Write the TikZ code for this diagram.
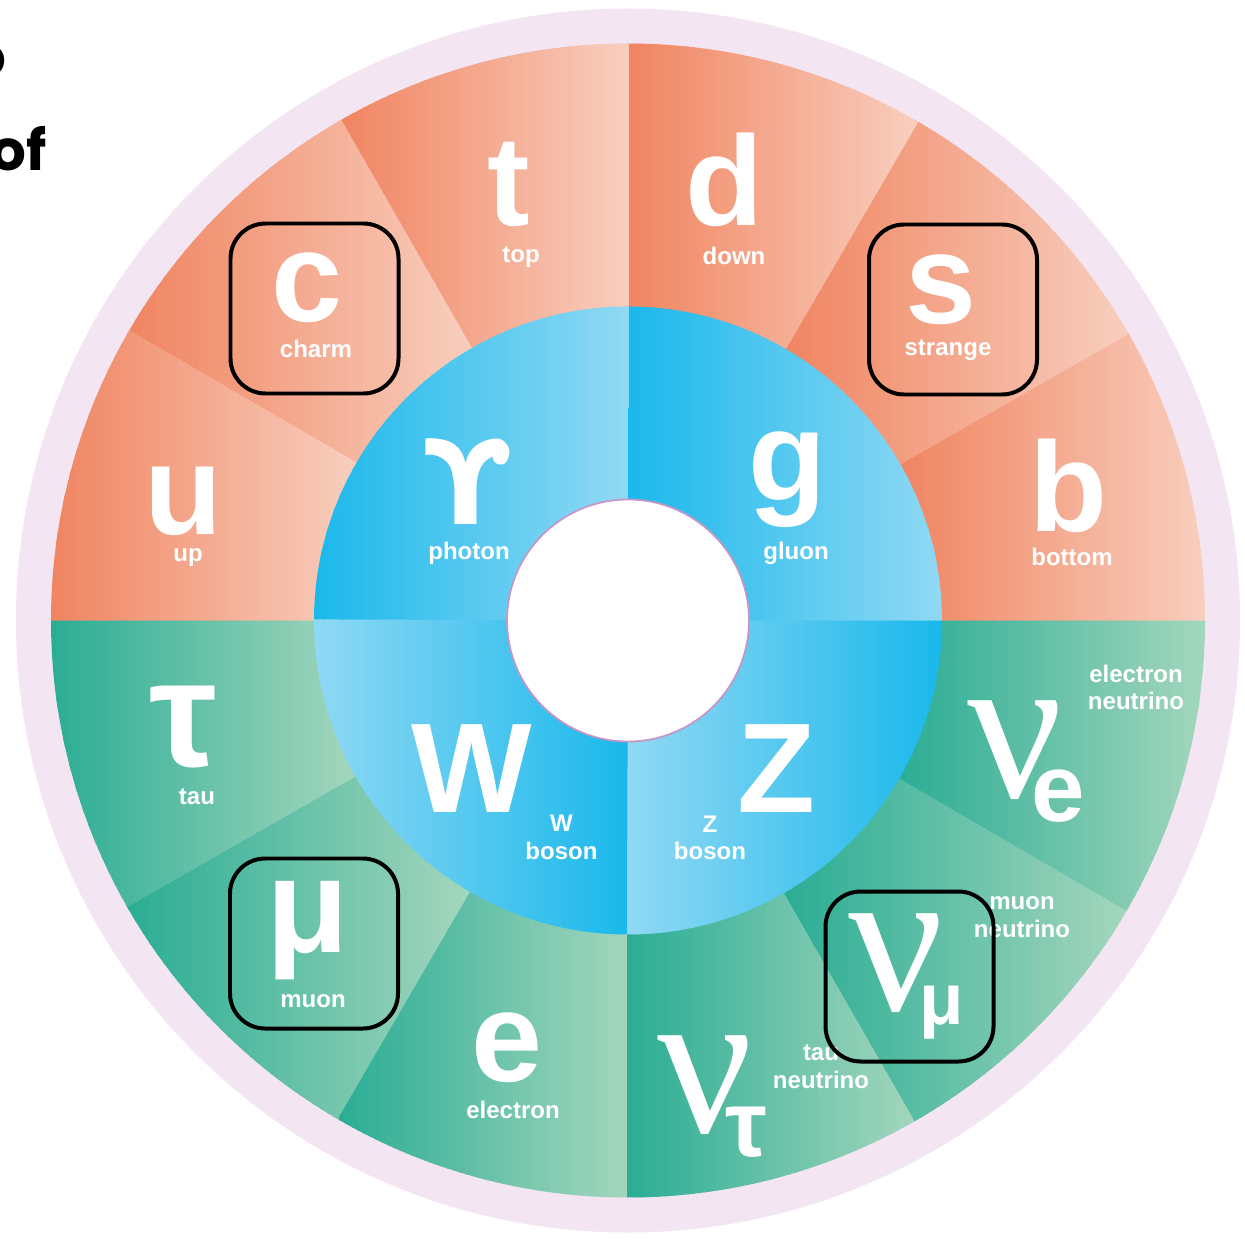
\documentclass[tikz,border=0pt]{standalone}
\usepackage{fontspec}
\setmainfont{Liberation Sans}
\newfontfamily\nufont{Liberation Serif}
\newfontfamily\dvfont{DejaVu Sans}
\newfontfamily\headfont{Poppins}
\usepackage{xcolor}

\definecolor{quarkdark}{HTML}{F08460}
\definecolor{quarklight}{HTML}{F8CEBE}
\definecolor{leptondark}{HTML}{2AAD94}
\definecolor{leptonlight}{HTML}{A3D6BC}
\definecolor{bosondark}{HTML}{1AB8EB}
\definecolor{bosonlight}{HTML}{90D9F4}
\definecolor{halo}{HTML}{F3E6F2}
\definecolor{rimline}{HTML}{C596C6}

\tikzset{
  sym/.style={text=white, inner sep=0pt, font=\bfseries\fontsize{109}{110}\selectfont},
  lbl/.style={text=white, inner sep=0pt, align=center, font=\bfseries\fontsize{20.5}{23.5}\selectfont},
  nusym/.style={text=white, inner sep=0pt, font=\nufont\fontsize{180}{180}\selectfont},
  markbox/.style={draw=black, line width=3.4pt, rounded corners=30pt, minimum width=5.04cm, minimum height=5.1cm}
}

\begin{document}
\begin{tikzpicture}[x=0.03cm, y=-0.03cm]
    \useasboundingbox (0,0) rectangle (1245,1239);
    % heading cut off at the left edge
    \node[anchor=east, inner sep=0pt, font=\headfont\bfseries\fontsize{48}{48}\selectfont] (headA) at (7,61) {o};
    \node[anchor=base east, inner sep=0pt, font=\headfont\bfseries\fontsize{48}{48}\selectfont] (headB) at (47,170.5) {of};
    % rings: each sector is clipped and filled with thin strips, dark on the left, light on the right
    \begin{scope}[shift={(628,620.5)}]
        \fill[halo] (0,0) circle[radius=612];
        \foreach \a/\w/\sa/\sb/\ri/\ro/\xa/\xb/\ca/\cb in {0/30/0.2/0.2/310/577/271.9/577/quarkdark/quarklight, 30/30/0.2/0.2/310/577/157/499.7/quarkdark/quarklight, 60/30/0.2/0.2/310/577/0/288.5/quarkdark/quarklight, 90/30/0.2/0.2/310/577/-288.5/0/quarkdark/quarklight, 120/30/0.2/0.2/310/577/-499.7/-157/quarkdark/quarklight, 150/30/0.2/0.2/310/577/-577/-271.9/quarkdark/quarklight, 180/30/0/0.2/310/577/-577/-271.9/leptondark/leptonlight, 210/30/0.2/0.2/310/577/-499.7/-157/leptondark/leptonlight, 240/30/0.2/0.2/310/577/-288.5/0/leptondark/leptonlight, 270/30/0.2/0.2/310/577/0/288.5/leptondark/leptonlight, 300/30/0.2/0.2/310/577/157/499.7/leptondark/leptonlight, 330/30/0.2/0/310/577/271.9/577/leptondark/leptonlight, 0/90/0.2/0.2/117/314/0/314/bosondark/bosonlight, 90/90/0.2/0.2/117/314/-314/0/bosondark/bosonlight, 180/90/0.2/0.2/117/314/-314/0/bosonlight/bosondark, 270/90/0.2/0/117/314/0/314/bosonlight/bosondark}{
            \begin{scope}
                \clip (-\a+\sa:\ro) arc[start angle=-\a+\sa, end angle=-\a-\w-\sb, radius=\ro] -- (-\a-\w-\sb:\ri) arc[start angle=-\a-\w-\sb, end angle=-\a+\sa, radius=\ri] -- cycle;
                \foreach \k in {0,...,47}{
                    \pgfmathsetmacro\pct{(\k+0.5)*100/48}
                    \pgfmathsetmacro\xl{\xa+(\xb-\xa)*(\k/48)-1}
                    \pgfmathsetmacro\xr{\xa+(\xb-\xa)*((\k+1)/48)+1}
                    \fill[\cb!\pct!\ca] (\xl,-620) rectangle (\xr,620);
                }
            \end{scope}
        }
        \fill[white, draw=rimline, line width=1.5pt] (0,0) circle[radius=121];
    \end{scope}
    % quarks
    \node[sym] (u) at (183,501) {u};
    \node[lbl] (ulbl) at (188,558) {up};
    \node[sym] (c) at (307,288) {c};
    \node[lbl] (clbl) at (316,349) {charm};
    \node[sym] (t) at (509,184) {t};
    \node[lbl] (tlbl) at (521,257) {top};
    \node[sym] (d) at (724,180) {d};
    \node[lbl] (dlbl) at (734,256) {down};
    \node[sym] (s) at (941,290) {s};
    \node[lbl] (slbl) at (948,350) {strange};
    \node[sym] (b) at (1068,486) {b};
    \node[lbl] (blbl) at (1072,557) {bottom};
    % bosons
    \node[sym, font=\dvfont\bfseries\fontsize{100}{100}\selectfont] (gamma) at (467,481) {ϒ};
    \node[lbl] (gammalbl) at (469,553) {photon};
    \node[sym] (g) at (787,480) {g};
    \node[lbl] (glbl) at (796,553) {gluon};
    \node[sym] (W) at (472,769) {W};
    \node[lbl] (Wlbl) at (561.5,837.5) {W\\boson};
    \node[sym] (Z) at (776,769) {Z};
    \node[lbl] (Zlbl) at (710,838) {Z\\boson};
    % leptons
    \node[sym, font=\bfseries\fontsize{130}{130}\selectfont] (tau) at (183,727) {τ};
    \node[lbl] (taulbl) at (197,797) {tau};
    \node[sym, font=\bfseries\fontsize{115}{115}\selectfont] (mu) at (308,931) {μ};
    \node[lbl] (mulbl) at (313,1001) {muon};
    \node[sym] (e) at (507,1048) {e};
    \node[lbl] (elbl) at (513,1110) {electron};
    \node[nusym] (nutau) at (705,1085) {ν};
    \node[sym, font=\bfseries\fontsize{80}{80}\selectfont] (nutausub) at (746.5,1132.5) {τ};
    \node[lbl] (nutaulbl) at (821,1067) {tau\\neutrino};
    \node[nusym] (numu) at (896,963) {ν};
    \node[sym, font=\bfseries\fontsize{62}{62}\selectfont] (numusub) at (941.5,1012.5) {μ};
    \node[lbl] (numulbl) at (1022,917) {muon\\neutrino};
    \node[nusym] (nue) at (1015,750) {ν};
    \node[sym, font=\bfseries\fontsize{82}{82}\selectfont] (nuesub) at (1058.5,796.5) {e};
    \node[lbl] (nuelbl) at (1136,687.5) {electron\\neutrino};
    % marked particles
    \node[markbox] (cbox) at (314.5,308.5) {};
    \node[markbox] (sbox) at (953,309.5) {};
    \node[markbox] (mubox) at (314,943.5) {};
    \node[markbox] (numubox) at (909.5,976.5) {};
\end{tikzpicture}
\end{document}
